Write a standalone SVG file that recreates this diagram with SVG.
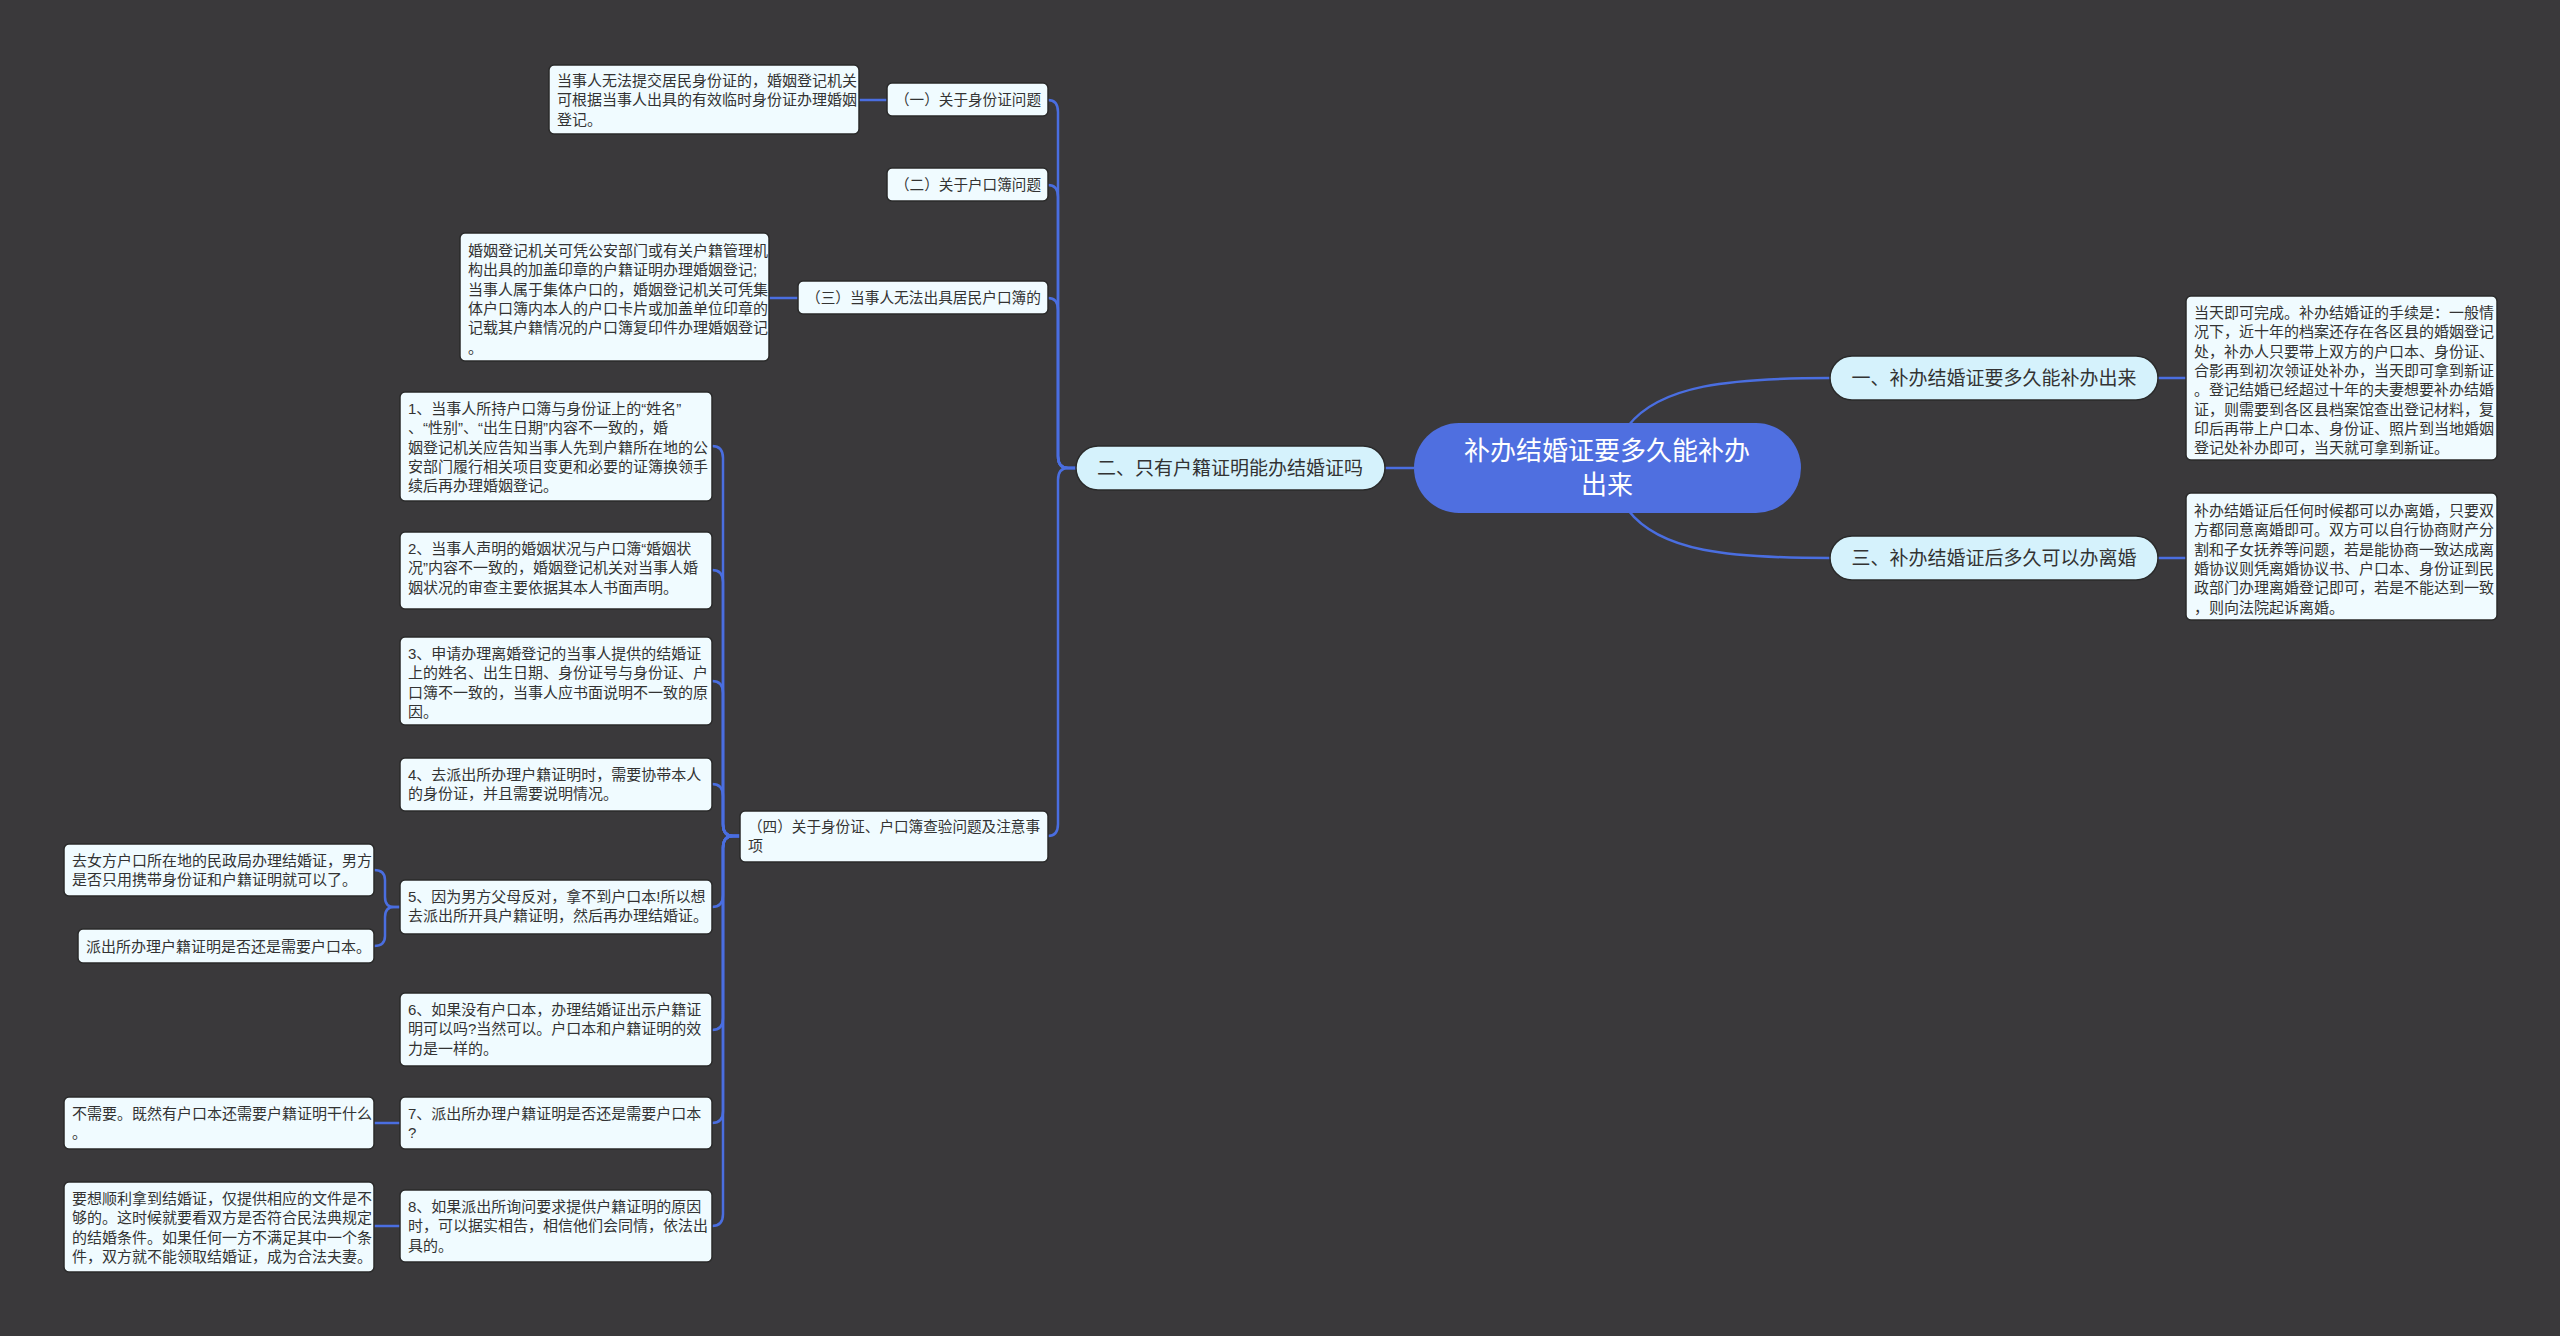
<svg xmlns="http://www.w3.org/2000/svg" width="2560" height="1336" viewBox="0 0 2560 1336">
<style>
text{font-family:"Liberation Sans","Noto Sans CJK SC",sans-serif;fill:#333;}
.leaf rect{fill:#f0fbff;stroke:#2a2a2a;stroke-width:1.5;}
.leaf text{font-size:15px;}
.l1 rect{fill:#d5f2fc;stroke:#2a2a2a;stroke-width:1.5;}
.l1 text{font-size:19px;}
.cn path{fill:none;stroke:#4a6ee0;stroke-width:2.5;}
</style>
<rect width="2560" height="1336" fill="#3a393b"/>
<g class="cn">
<path d="M1628,426 C1660,385 1730,378 1830,378"/>
<path d="M1628,510 C1660,552 1730,558 1830,558"/>
<path d="M2158,378 L2186,378"/>
<path d="M2158,558 L2186,558"/>
<path d="M1414,468 L1385,468"/>
<path d="M1076,468 H1068 Q1058,468 1058,456 V112 Q1058,100 1048,100"/>
<path d="M1076,468 H1068 Q1058,468 1058,456 V197 Q1058,185 1048,185"/>
<path d="M1076,468 H1068 Q1058,468 1058,456 V310 Q1058,298 1048,298"/>
<path d="M1076,468 H1068 Q1058,468 1058,480 V824 Q1058,836 1048,836"/>
<path d="M887,100 L859,100"/>
<path d="M798,298 L769,298"/>
<path d="M740,836 H733 Q723,836 723,824 V458 Q723,446 712,446"/>
<path d="M740,836 H733 Q723,836 723,824 V582 Q723,570 712,570"/>
<path d="M740,836 H733 Q723,836 723,824 V693 Q723,681 712,681"/>
<path d="M740,836 H733 Q723,836 723,824 V796 Q723,784 712,784"/>
<path d="M740,836 H733 Q723,836 723,848 V895 Q723,907 712,907"/>
<path d="M740,836 H733 Q723,836 723,848 V1018 Q723,1030 712,1030"/>
<path d="M740,836 H733 Q723,836 723,848 V1111 Q723,1123 712,1123"/>
<path d="M740,836 H733 Q723,836 723,848 V1214 Q723,1226 712,1226"/>
<path d="M400,907 H394 Q385,907 385,897 V880 Q385,870 374,870"/>
<path d="M400,907 H394 Q385,907 385,917 V936 Q385,946 374,946"/>
<path d="M400,1123 L374,1123"/>
<path d="M400,1226 L374,1226"/>
</g>
<g id="root"><rect x="1414" y="423" width="387" height="90" rx="45" fill="#4f6fe0"/>
<text x="1607" y="460" text-anchor="middle" style="fill:#fff;font-size:26px">补办结婚证要多久能补办</text>
<text x="1607" y="494" text-anchor="middle" style="fill:#fff;font-size:26px">出来</text></g>
<g id="n1" class="l1"><rect x="1830" y="356" width="328" height="44" rx="22"/><text x="1994" y="385" text-anchor="middle">一、补办结婚证要多久能补办出来</text></g>
<g id="n3" class="l1"><rect x="1830" y="536" width="328" height="44" rx="22"/><text x="1994" y="565" text-anchor="middle">三、补办结婚证后多久可以办离婚</text></g>
<g id="n2" class="l1"><rect x="1076" y="446" width="309" height="44" rx="22"/><text x="1230" y="475" text-anchor="middle">二、只有户籍证明能办结婚证吗</text></g>
<g id="r1" class="leaf"><rect x="2186" y="296" width="311" height="164" rx="5"/><text x="2194" y="318"><tspan x="2194">当天即可完成。补办结婚证的手续是：一般情</tspan><tspan x="2194" dy="19.3">况下，近十年的档案还存在各区县的婚姻登记</tspan><tspan x="2194" dy="19.3">处，补办人只要带上双方的户口本、身份证、</tspan><tspan x="2194" dy="19.3">合影再到初次领证处补办，当天即可拿到新证</tspan><tspan x="2194" dy="19.3">。登记结婚已经超过十年的夫妻想要补办结婚</tspan><tspan x="2194" dy="19.3">证，则需要到各区县档案馆查出登记材料，复</tspan><tspan x="2194" dy="19.3">印后再带上户口本、身份证、照片到当地婚姻</tspan><tspan x="2194" dy="19.3">登记处补办即可，当天就可拿到新证。</tspan></text></g>
<g id="r2" class="leaf"><rect x="2186" y="493" width="311" height="127" rx="5"/><text x="2194" y="516"><tspan x="2194">补办结婚证后任何时候都可以办离婚，只要双</tspan><tspan x="2194" dy="19.3">方都同意离婚即可。双方可以自行协商财产分</tspan><tspan x="2194" dy="19.3">割和子女抚养等问题，若是能协商一致达成离</tspan><tspan x="2194" dy="19.3">婚协议则凭离婚协议书、户口本、身份证到民</tspan><tspan x="2194" dy="19.3">政部门办理离婚登记即可，若是不能达到一致</tspan><tspan x="2194" dy="19.3">，则向法院起诉离婚。</tspan></text></g>
<g id="a1" class="leaf"><rect x="887" y="83" width="161" height="33" rx="5"/><text x="895" y="105" textLength="146" lengthAdjust="spacingAndGlyphs">（一）关于身份证问题</text></g>
<g id="a2" class="leaf"><rect x="887" y="168" width="161" height="33" rx="5"/><text x="895" y="190" textLength="146" lengthAdjust="spacingAndGlyphs">（二）关于户口簿问题</text></g>
<g id="a3" class="leaf"><rect x="798" y="281" width="250" height="33" rx="5"/><text x="806" y="303" textLength="235" lengthAdjust="spacingAndGlyphs">（三）当事人无法出具居民户口簿的</text></g>
<g id="a4" class="leaf"><rect x="740" y="811" width="308" height="51" rx="5"/><text x="748" y="832"><tspan x="748" textLength="292" lengthAdjust="spacingAndGlyphs">（四）关于身份证、户口簿查验问题及注意事</tspan><tspan x="748" dy="19.3">项</tspan></text></g>
<g id="b1" class="leaf"><rect x="549" y="65" width="310" height="69" rx="5"/><text x="557" y="86"><tspan x="557">当事人无法提交居民身份证的，婚姻登记机关</tspan><tspan x="557" dy="19.3">可根据当事人出具的有效临时身份证办理婚姻</tspan><tspan x="557" dy="19.3">登记。</tspan></text></g>
<g id="b3" class="leaf"><rect x="460" y="233" width="309" height="128" rx="5"/><text x="468" y="256"><tspan x="468">婚姻登记机关可凭公安部门或有关户籍管理机</tspan><tspan x="468" dy="19.3">构出具的加盖印章的户籍证明办理婚姻登记;</tspan><tspan x="468" dy="19.3">当事人属于集体户口的，婚姻登记机关可凭集</tspan><tspan x="468" dy="19.3">体户口簿内本人的户口卡片或加盖单位印章的</tspan><tspan x="468" dy="19.3">记载其户籍情况的户口簿复印件办理婚姻登记</tspan><tspan x="468" dy="19.3">。</tspan></text></g>
<g id="c1" class="leaf"><rect x="400" y="392" width="312" height="109" rx="5"/><text x="408" y="414"><tspan x="408">1、当事人所持户口簿与身份证上的“姓名”</tspan><tspan x="408" dy="19.3">、“性别”、“出生日期”内容不一致的，婚</tspan><tspan x="408" dy="19.3">姻登记机关应告知当事人先到户籍所在地的公</tspan><tspan x="408" dy="19.3">安部门履行相关项目变更和必要的证簿换领手</tspan><tspan x="408" dy="19.3">续后再办理婚姻登记。</tspan></text></g>
<g id="c2" class="leaf"><rect x="400" y="532" width="312" height="77" rx="5"/><text x="408" y="554"><tspan x="408">2、当事人声明的婚姻状况与户口簿“婚姻状</tspan><tspan x="408" dy="19.3">况”内容不一致的，婚姻登记机关对当事人婚</tspan><tspan x="408" dy="19.3">姻状况的审查主要依据其本人书面声明。</tspan></text></g>
<g id="c3" class="leaf"><rect x="400" y="637" width="312" height="88" rx="5"/><text x="408" y="659"><tspan x="408">3、申请办理离婚登记的当事人提供的结婚证</tspan><tspan x="408" dy="19.3">上的姓名、出生日期、身份证号与身份证、户</tspan><tspan x="408" dy="19.3">口簿不一致的，当事人应书面说明不一致的原</tspan><tspan x="408" dy="19.3">因。</tspan></text></g>
<g id="c4" class="leaf"><rect x="400" y="758" width="312" height="53" rx="5"/><text x="408" y="780"><tspan x="408">4、去派出所办理户籍证明时，需要协带本人</tspan><tspan x="408" dy="19.3">的身份证，并且需要说明情况。</tspan></text></g>
<g id="c5" class="leaf"><rect x="400" y="880" width="312" height="54" rx="5"/><text x="408" y="902"><tspan x="408">5、因为男方父母反对，拿不到户口本!所以想</tspan><tspan x="408" dy="19.3">去派出所开具户籍证明，然后再办理结婚证。</tspan></text></g>
<g id="c6" class="leaf"><rect x="400" y="993" width="312" height="73" rx="5"/><text x="408" y="1015"><tspan x="408">6、如果没有户口本，办理结婚证出示户籍证</tspan><tspan x="408" dy="19.3">明可以吗?当然可以。户口本和户籍证明的效</tspan><tspan x="408" dy="19.3">力是一样的。</tspan></text></g>
<g id="c7" class="leaf"><rect x="400" y="1097" width="312" height="52" rx="5"/><text x="408" y="1119"><tspan x="408">7、派出所办理户籍证明是否还是需要户口本</tspan><tspan x="408" dy="19.3">?</tspan></text></g>
<g id="c8" class="leaf"><rect x="400" y="1190" width="312" height="72" rx="5"/><text x="408" y="1212"><tspan x="408">8、如果派出所询问要求提供户籍证明的原因</tspan><tspan x="408" dy="19.3">时，可以据实相告，相信他们会同情，依法出</tspan><tspan x="408" dy="19.3">具的。</tspan></text></g>
<g id="d5a" class="leaf"><rect x="64" y="844" width="310" height="52" rx="5"/><text x="72" y="866"><tspan x="72">去女方户口所在地的民政局办理结婚证，男方</tspan><tspan x="72" dy="19.3">是否只用携带身份证和户籍证明就可以了。</tspan></text></g>
<g id="d5b" class="leaf"><rect x="78" y="929" width="296" height="34" rx="5"/><text x="86" y="952">派出所办理户籍证明是否还是需要户口本。</text></g>
<g id="d7" class="leaf"><rect x="64" y="1097" width="310" height="52" rx="5"/><text x="72" y="1119"><tspan x="72">不需要。既然有户口本还需要户籍证明干什么</tspan><tspan x="72" dy="19.3">。</tspan></text></g>
<g id="d8" class="leaf"><rect x="64" y="1182" width="310" height="90" rx="5"/><text x="72" y="1204"><tspan x="72">要想顺利拿到结婚证，仅提供相应的文件是不</tspan><tspan x="72" dy="19.3">够的。这时候就要看双方是否符合民法典规定</tspan><tspan x="72" dy="19.3">的结婚条件。如果任何一方不满足其中一个条</tspan><tspan x="72" dy="19.3">件，双方就不能领取结婚证，成为合法夫妻。</tspan></text></g>
</svg>
